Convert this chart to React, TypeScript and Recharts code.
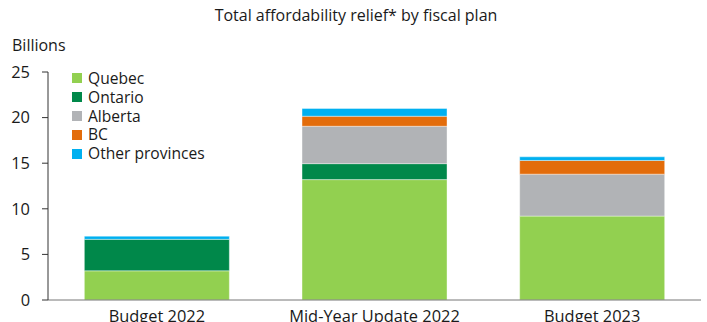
import { BarChart, Bar, XAxis, YAxis } from 'recharts';

const categories = ['Budget 2022', 'Mid-Year Update 2022', 'Budget 2023'];
const quebec = [3.2, 13.2, 9.2];
const ontario = [3.45, 1.75, 0];
const alberta = [0, 4.1, 4.6];
const bc = [0, 1.1, 1.5];
const otherProvinces = [0.35, 0.85, 0.4];
const yTicks = [0, 5, 10, 15, 20, 25];

const series = [
  { key: 'quebec', name: 'Quebec', color: '#92D050' },
  { key: 'ontario', name: 'Ontario', color: '#00884A' },
  { key: 'alberta', name: 'Alberta', color: '#B1B3B6' },
  { key: 'bc', name: 'BC', color: '#E36C0A' },
  { key: 'other', name: 'Other provinces', color: '#00B0F0' },
];

const data = categories.map((c, i) => ({
  name: c,
  quebec: quebec[i],
  ontario: ontario[i],
  alberta: alberta[i],
  bc: bc[i],
  other: otherProvinces[i],
}));

const font = '"Open Sans", "Noto Sans", sans-serif';
const ink = '#1a1a1a';

// legend drawn as a plain overlay so it doesn't eat into the plot area
function LegendBox() {
  return (
    <div style={{ position: 'absolute', left: 72, top: 69, fontSize: 15.6, color: ink, lineHeight: '18.8px' }}>
      {series.map(s => (
        <div key={s.key} style={{ display: 'flex', alignItems: 'center', height: 18.8 }}>
          <span style={{ width: 10, height: 10, background: s.color, display: 'inline-block', marginRight: 6 }} />
          {s.name}
        </div>
      ))}
    </div>
  );
}

export default function App() {
  return (
    <div style={{ position: 'absolute', left: 0, top: 0, width: 707, height: 322, background: '#fff', fontFamily: font, overflow: 'hidden' }}>
      <div style={{ position: 'absolute', top: 4, left: 0, width: 712, textAlign: 'center', fontSize: 16, color: ink }}>
        Total affordability relief* by fiscal plan
      </div>
      <div style={{ position: 'absolute', top: 34, left: 12, fontSize: 16, color: ink }}>Billions</div>
      <BarChart width={707} height={322} data={data} barCategoryGap="16.7%"
        margin={{ top: 72, right: 6, left: 8, bottom: 0 }}>
        <XAxis dataKey="name" axisLine={{ stroke: '#777' }} tickLine={false} height={22} tickMargin={4}
          tick={{ fill: ink, fontSize: 16.4, fontFamily: font }} interval={0} />
        <YAxis width={40} domain={[0, 25]} ticks={yTicks} axisLine={{ stroke: '#333' }} tickLine={{ stroke: '#333' }}
          tickSize={6} tickMargin={12} tick={{ fill: ink, fontSize: 16.4, fontFamily: font }} />
        {series.map(s => (
          <Bar key={s.key} dataKey={s.key} name={s.name} stackId="a" fill={s.color}
            stroke="#ffffff" strokeWidth={0.4} isAnimationActive={false} />
        ))}
      </BarChart>
      <LegendBox />
    </div>
  );
}
